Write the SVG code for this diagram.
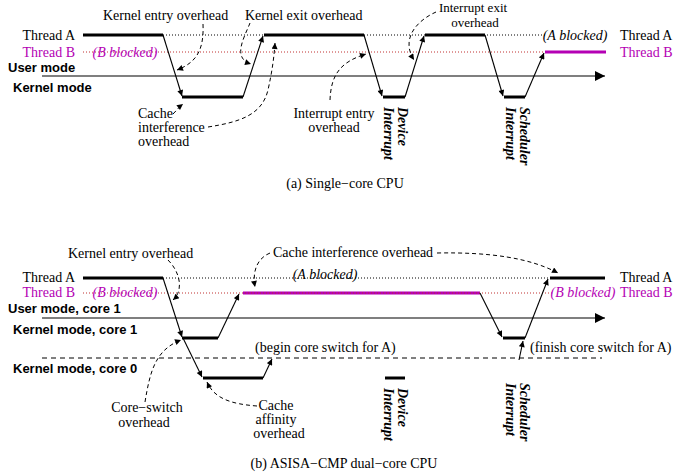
<svg xmlns="http://www.w3.org/2000/svg" width="673" height="475" viewBox="0 0 673 475">
<style>
.t{font-family:"Liberation Serif","Times New Roman",serif;font-size:14px;fill:#000}
.sm{font-size:13px}
.it{font-style:italic}
.bi{font-style:italic;font-weight:bold}
.mg{fill:#b400b4}
.s{font-family:"Liberation Sans",Arial,sans-serif;font-size:13px;font-weight:bold;fill:#000}
.thick{stroke:#000;stroke-width:3;fill:none}
.thickm{stroke:#b400b4;stroke-width:3;fill:none}
.dotk{stroke:#000;stroke-width:1;stroke-dasharray:1 2;fill:none}
.dotr{stroke:#c03030;stroke-width:1;stroke-dasharray:1 2;fill:none}
.axis{stroke:#000;stroke-width:1.2;fill:none}
.sep{stroke:#000;stroke-width:1;stroke-dasharray:5 4;fill:none}
.tr{stroke:#000;stroke-width:1.1;fill:none;marker-end:url(#ah)}
.dash{stroke:#000;stroke-width:1;stroke-dasharray:4 3;fill:none;marker-end:url(#ah)}
</style>
<defs>
<marker id="ah" viewBox="0 0 10 10" refX="10" refY="5" markerWidth="8" markerHeight="6" orient="auto" markerUnits="userSpaceOnUse"><path d="M0,0 L10,5 L0,10 z" fill="#000"/></marker>
<marker id="big" viewBox="0 0 10 10" refX="10" refY="5" markerWidth="11" markerHeight="10" orient="auto" markerUnits="userSpaceOnUse"><path d="M0,0 L10,5 L0,10 z" fill="#000"/></marker>
</defs>

<!-- ===== (a) single-core ===== -->
<g id="a-labels">
<text class="t" x="75" y="40" text-anchor="end">Thread A</text>
<text class="t mg" x="75" y="56.5" text-anchor="end">Thread B</text>
<text class="t" x="620" y="40">Thread A</text>
<text class="t mg" x="620" y="56.5">Thread B</text>
<text class="s" x="8" y="72">User mode</text>
<text class="s" x="13" y="92">Kernel mode</text>
</g>
<g id="a-axis">
<line class="axis" x1="42" y1="76" x2="605" y2="76" marker-end="url(#big)"/>
</g>
<g id="a-threadA">
<line class="dotk" x1="163" y1="35" x2="545" y2="35"/>
<line class="thick" x1="83" y1="35" x2="163" y2="35"/>
<line class="thick" x1="264" y1="35" x2="364" y2="35"/>
<line class="thick" x1="425" y1="35" x2="485" y2="35"/>
<text class="t it" x="575" y="40" text-anchor="middle">(A blocked)</text>
</g>
<g id="a-threadB">
<line class="dotr" x1="83" y1="52" x2="545" y2="52"/>
<text class="t it mg" x="125" y="56.5" text-anchor="middle">(B blocked)</text>
<line class="thickm" x1="545" y1="52" x2="606" y2="52"/>
</g>
<g id="a-kernel">
<line class="thick" x1="182" y1="97" x2="243" y2="97"/>
<line class="thick" x1="383" y1="97" x2="405" y2="97"/>
<line class="thick" x1="504" y1="97" x2="525" y2="97"/>
</g>
<g id="a-interrupts">
<text class="t bi" transform="translate(398,107) rotate(90)"><tspan x="0" y="0">Device</tspan><tspan x="0" y="14">Interrupt</tspan></text>
<text class="t bi" transform="translate(520,107) rotate(90)"><tspan x="0" y="0">Scheduler</tspan><tspan x="0" y="14">Interrupt</tspan></text>
</g>
<g id="a-notes">
<text class="t" x="103" y="20">Kernel entry overhead</text>
<text class="t" x="245" y="20">Kernel exit overhead</text>
<text class="t" x="138" y="118">Cache</text>
<text class="t" x="138" y="132">interference</text>
<text class="t" x="138" y="146">overhead</text>
<text class="t" x="334" y="118" text-anchor="middle">Interrupt entry</text>
<text class="t" x="334" y="132" text-anchor="middle">overhead</text>
<text class="t sm" x="473" y="12" text-anchor="middle">Interrupt exit</text>
<text class="t sm" x="475" y="27" text-anchor="middle">overhead</text>
</g>
<text class="t" x="345" y="188" text-anchor="middle">(a) Single−core CPU</text>

<!-- ===== (b) dual-core ===== -->
<g id="b-labels">
<text class="t" x="75" y="282" text-anchor="end">Thread A</text>
<text class="t mg" x="75" y="297" text-anchor="end">Thread B</text>
<text class="t" x="620" y="282">Thread A</text>
<text class="t mg" x="620" y="297">Thread B</text>
<text class="s" x="8" y="313">User mode, core 1</text>
<text class="s" x="13" y="334">Kernel mode, core 1</text>
<text class="s" x="13" y="373">Kernel mode, core 0</text>
</g>
<g id="b-axis">
<line class="axis" x1="42" y1="318" x2="605" y2="318" marker-end="url(#big)"/>
<line class="sep" x1="42" y1="358" x2="602" y2="358"/>
</g>
<g id="b-threadA">
<line class="dotk" x1="163" y1="278" x2="550" y2="278"/>
<line class="thick" x1="83" y1="278" x2="163" y2="278"/>
<line class="thick" x1="550" y1="278" x2="605" y2="278"/>
<text class="t it" x="325" y="279" text-anchor="middle">(A blocked)</text>
</g>
<g id="b-threadB">
<line class="thickm" x1="243" y1="293" x2="480" y2="293"/>
<line class="dotr" x1="83" y1="293" x2="553" y2="293"/>
<text class="t it mg" x="125" y="297" text-anchor="middle">(B blocked)</text>
<text class="t it mg" x="583" y="297" text-anchor="middle">(B blocked)</text>
</g>
<g id="b-kernel">
<line class="thick" x1="182" y1="338" x2="218" y2="338"/>
<line class="thick" x1="203" y1="378" x2="263" y2="378"/>
<line class="thick" x1="503" y1="338" x2="525" y2="338"/>
<line class="thick" x1="385" y1="378" x2="405" y2="378"/>
</g>
<g id="b-interrupts">
<text class="t bi" transform="translate(398,388) rotate(90)"><tspan x="0" y="0">Device</tspan><tspan x="0" y="14">Interrupt</tspan></text>
<text class="t bi" transform="translate(520,383) rotate(90)"><tspan x="0" y="0">Scheduler</tspan><tspan x="0" y="14">Interrupt</tspan></text>
</g>
<g id="b-notes">
<text class="t" x="68" y="258">Kernel entry overhead</text>
<text class="t" x="273" y="257">Cache interference overhead</text>
<text class="t" x="255" y="352">(begin core switch for A)</text>
<text class="t" x="530" y="352">(finish core switch for A)</text>
<text class="t" x="147" y="412" text-anchor="middle">Core−switch</text>
<text class="t" x="144" y="427" text-anchor="middle">overhead</text>
<text class="t" x="276" y="410" text-anchor="middle">Cache</text>
<text class="t" x="276" y="424" text-anchor="middle">affinity</text>
<text class="t" x="279" y="438" text-anchor="middle">overhead</text>
</g>
<text class="t" x="344" y="468" text-anchor="middle">(b) ASISA−CMP dual−core CPU</text>

<g id="connectors">
<!-- (a) transitions -->
<path class="tr" d="M163,35 L182,96"/>
<path class="tr" d="M243,97 L263,36"/>
<path class="tr" d="M364,35 L382,96"/>
<path class="tr" d="M405,97 L424,36"/>
<path class="tr" d="M485,35 L503,96"/>
<path class="tr" d="M525,97 L544,53"/>
<!-- (a) annotations -->
<path class="dash" d="M203,24 C204,48 198,62 177,70"/>
<path class="dash" d="M250,23 C244,38 232,58 251,64"/>
<path class="dash" d="M173,114 C177,110 179,107 183,104"/>
<path class="dash" d="M208,127 C240,122 262,115 268,90 C272,72 274,58 275,43"/>
<path class="dash" d="M330,100 C331,75 340,62 366,54"/>
<path class="dash" d="M436,12 C418,20 400,38 414,60"/>
<!-- (b) transitions -->
<path class="tr" d="M163,278 L182,337"/>
<path class="tr" d="M183,338 L202,377"/>
<path class="tr" d="M218,338 L239,294"/>
<path class="tr" d="M263,378 L272,359"/>
<path class="tr" d="M480,293 L502,337"/>
<path class="tr" d="M525,338 L548,279"/>
<path class="tr" d="M519,360 L523,341"/>
<!-- (b) annotations -->
<path class="dash" d="M168,260 C180,272 184,290 173,300"/>
<path class="dash" d="M270,253 C258,258 252,270 255,287"/>
<path class="dash" d="M437,253 C490,252 530,258 558,273"/>
<path class="dash" d="M145,402 C150,372 155,350 181,340"/>
<path class="dash" d="M257,406 C230,404 214,398 207,382"/>
</g>
</svg>
